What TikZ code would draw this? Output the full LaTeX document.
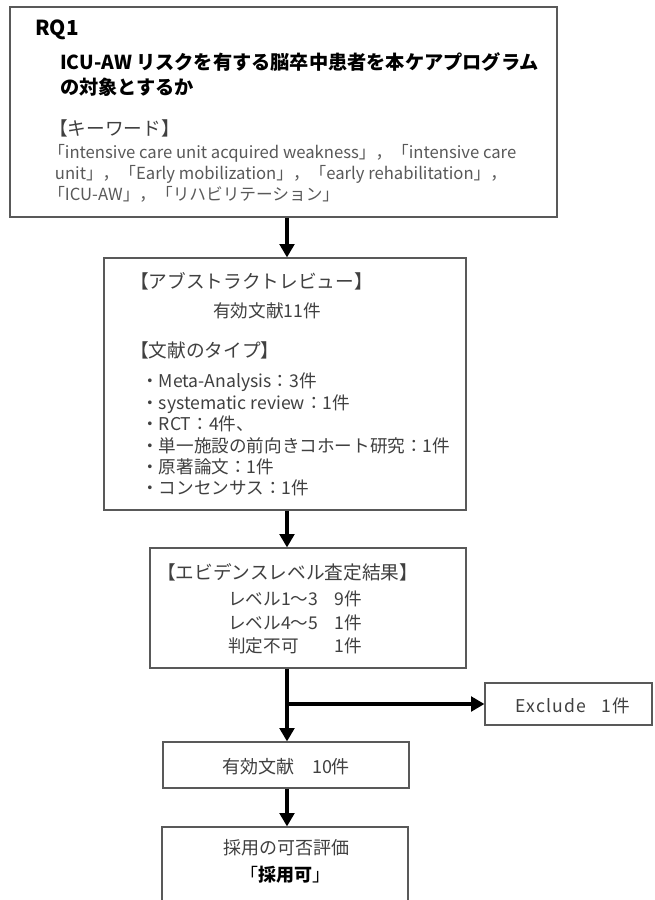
\documentclass[tikz,border=0pt]{standalone}
\usepackage{fontspec}
\setmainfont{Noto Sans CJK JP}
\usetikzlibrary{arrows.meta}
\definecolor{txtgrey}{HTML}{404040}
\definecolor{kwgrey}{HTML}{595959}
\definecolor{frame}{HTML}{595959}
\begin{document}
\begin{tikzpicture}[x=0.75pt,y=-0.75pt,
  box/.style={draw=frame,line width=0.9pt,fill=white,inner sep=0pt,anchor=center},
  arr/.style={line width=2.3pt,-{Triangle[width=11pt,length=10pt]}},
  label/.style={text=txtgrey,inner sep=0pt,anchor=west,font=\fontsize{13.2}{16}\selectfont},
  heading/.style={label,font=\fontsize{14}{16}\selectfont},
  question/.style={inner sep=0pt,anchor=west,align=left,text=black,
    font=\bfseries\fontsize{14.4}{18.75}\selectfont},
  keywords/.style={inner sep=0pt,anchor=north west,align=left,text=kwgrey,
    font=\fontsize{12.5}{15.75}\selectfont},
  centred/.style={label,anchor=center,align=center}]
\useasboundingbox (0,0) rectangle (654,900);

% boxes of the flow
\node[box,minimum width=410.25pt,minimum height=157.5pt] (rq) at (283.5,112) {};
\node[box,minimum width=271.5pt,minimum height=189pt] (review) at (285,384) {};
\node[box,minimum width=237pt,minimum height=90pt] (level) at (308,608) {};
\node[box,minimum width=125.25pt,minimum height=31.5pt] (exclude) at (568.5,704) {};
\node[box,minimum width=184.5pt,minimum height=34.5pt] (valid) at (286,765) {};
\node[box,minimum width=184.5pt,minimum height=75pt] (adopt) at (285,877) {};

% research question
\node[inner sep=0pt,anchor=west,text=black,font=\bfseries\fontsize{15.5}{18}\selectfont]
  (rqtitle) at (35,30) {RQ1};
\node[question] (rqtext) at (60,74.5)
  {ICU-AW リスクを有する脳卒中患者を本ケアプログラム\\の対象とするか};
\node[heading] (kwhead) at (49,128) {【キーワード】};
\node[keywords] (kwlist) at (48,144)
  {「intensive care unit acquired weakness」，「intensive care\\
   \hspace*{5pt}unit」，「Early mobilization」，「early rehabilitation」，\\
   「ICU-AW」，「リハビリテーション」};

% abstract review
\node[heading] (abshead) at (130,281) {【アブストラクトレビュー】};
\node[label] (abscount) at (213,311) {有効文献11件};
\node[heading] (typehead) at (130,350) {【文献のタイプ】};
\node[label,anchor=north west,align=left,font=\fontsize{13.2}{16.05}\selectfont]
  (typelist) at (141,373)
  {・Meta-Analysis：3件\\
   ・systematic review：1件\\
   ・RCT：4件、\\
   ・単一施設の前向きコホート研究：1件\\
   ・原著論文：1件\\
   ・コンセンサス：1件};

% evidence levels
\node[heading] (levhead) at (157,572) {【エビデンスレベル査定結果】};
\node[label,anchor=north west,align=left,font=\fontsize{13.2}{17.6}\selectfont]
  (levlist) at (228,591)
  {\makebox[80pt][l]{レベル1〜3}9件\\
   \makebox[80pt][l]{レベル4〜5}1件\\
   \makebox[80pt][l]{判定不可}1件};

% outcomes
\node[centred,font=\fontsize{13.2}{16}\addfontfeatures{LetterSpace=6}\selectfont]
  (extext) at (573,706) {Exclude\hspace{0.9em}1件};
\node[centred,font=\fontsize{13.5}{16}\selectfont] (validtext) at (286,767) {有効文献\hspace{1em}10件};
\node[centred,font=\fontsize{13.5}{16}\selectfont] (adopttext) at (286,848) {採用の可否評価};
\node[centred,text=black,font=\fontsize{13.5}{16}\selectfont] (adoptresult) at (285,875) {「\textbf{採用可}」};

% connectors
\coordinate (spine) at (287,0);
\draw[arr] (rq.south -| spine) -- (review.north -| spine);
\draw[arr] (review.south -| spine) -- (level.north -| spine);
\draw[arr] (level.south -| spine) -- (valid.north -| spine);
\draw[arr] (spine |- exclude.west) -- (exclude.west);
\draw[arr] (valid.south -| spine) -- (adopt.north -| spine);
\end{tikzpicture}
\end{document}
